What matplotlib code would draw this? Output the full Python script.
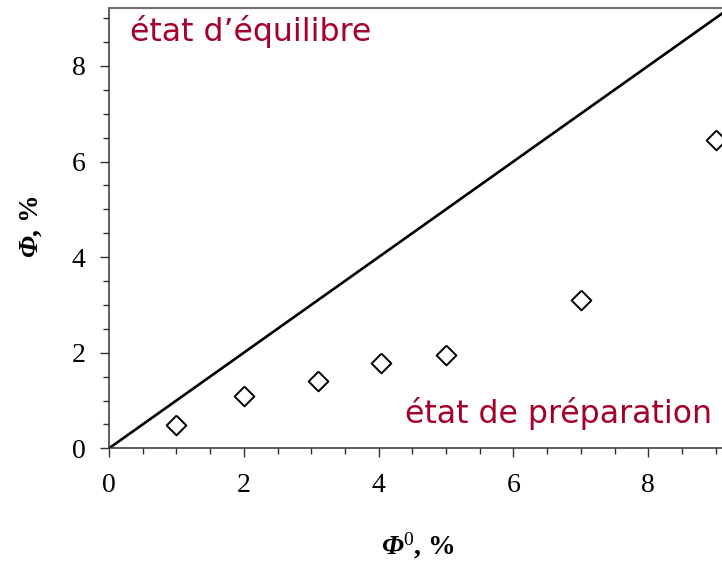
import matplotlib
matplotlib.use("Agg")
import matplotlib.pyplot as plt
from matplotlib.ticker import MultipleLocator

# Data
phi0 = [1.0, 2.0, 3.1, 4.03, 5.0, 7.0, 9.0]
phi = [0.49, 1.1, 1.41, 1.78, 1.95, 3.11, 6.45]
eq_x = [0.0, 9.5]
eq_y = [0.0, 9.5]
x_ticks = [0, 2, 4, 6, 8]
y_ticks = [0, 2, 4, 6, 8]
label_eq = "état d\u2019équilibre"
label_prep = "état de préparation"

plt.rcParams['mathtext.fontset'] = 'custom'
plt.rcParams['mathtext.rm'] = 'Liberation Serif:italic:bold'
plt.rcParams['mathtext.it'] = 'Liberation Serif:italic:bold'
plt.rcParams['mathtext.sf'] = 'Liberation Serif'
plt.rcParams['mathtext.bf'] = 'Liberation Serif:bold'

W, H = 722, 565
fig = plt.figure(figsize=(W / 100, H / 100), dpi=100)

x0_px, y0_px = 109, 448.3
px_per_x = 67.4
top_px = 7.5
xmax = 9.5
ymax = (y0_px - top_px) / 47.8
ax = fig.add_axes([x0_px / W, (H - y0_px) / H, xmax * px_per_x / W, (y0_px - top_px) / H])
ax.set_xlim(0, xmax)
ax.set_ylim(0, ymax)

ax.plot(eq_x, eq_y, color='black', lw=1.9, solid_capstyle='butt')
diamond = [(0, 1), (1, 0), (0, -1), (-1, 0), (0, 1)]
ax.plot(phi0, phi, linestyle='none', marker=diamond, markersize=14.2,
        markerfacecolor='white', markeredgecolor='black', markeredgewidth=1.4,
        clip_on=False)

ax.xaxis.set_minor_locator(MultipleLocator(0.5))
ax.yaxis.set_minor_locator(MultipleLocator(0.5))
ax.set_xticks(x_ticks)
ax.set_yticks(y_ticks)
ax.set_xticklabels([str(t) for t in x_ticks])
ax.set_yticklabels([str(t) for t in y_ticks])
ax.tick_params(which='major', direction='out', length=6.5, width=1.0, color='#303030',
               labelsize=20, pad=10.5)
ax.tick_params(which='minor', direction='out', length=4.3, width=1.0, color='#303030')
ax.tick_params(axis='x', which='major', pad=11.5)
for lab in ax.get_xticklabels() + ax.get_yticklabels():
    lab.set_fontfamily('Liberation Serif')

ax.spines['right'].set_visible(False)
ax.spines['top'].set_color('#707070')
ax.spines['top'].set_linewidth(1.5)
ax.spines['left'].set_color('#303030')
ax.spines['left'].set_linewidth(1.1)
ax.spines['bottom'].set_color('#303030')
ax.spines['bottom'].set_linewidth(1.1)

fig.text(418 / W, 1 - 546 / H, r'$\Phi^{\mathsf{0}}$, %', ha='center', va='center',
         fontsize=20, fontweight='bold', family='Liberation Serif')
fig.text(31 / W, 1 - 227 / H, r'$\Phi$, %', ha='center', va='center',
         rotation=90, fontsize=20, fontweight='bold', family='Liberation Serif')

red = '#A5002A'
fig.text(130 / W, 1 - 41 / H, label_eq, ha='left', va='baseline', color=red,
         fontsize=22.7, family='DejaVu Sans')
fig.text(405 / W, 1 - 422.7 / H, label_prep, ha='left', va='baseline', color=red,
         fontsize=22.7, family='DejaVu Sans')

fig.savefig('out.png', dpi=100)
